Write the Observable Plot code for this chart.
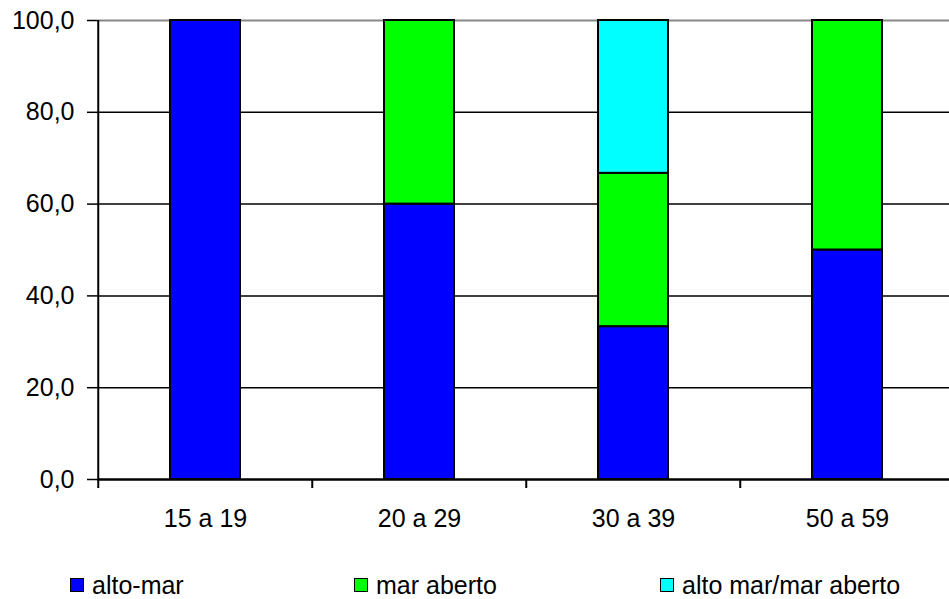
<!DOCTYPE html>
<html>
<head>
<meta charset="utf-8">
<script src="https://cdn.jsdelivr.net/npm/d3@7"></script>
<script src="https://cdn.jsdelivr.net/npm/@observablehq/plot@0.6"></script>
<style>
  html, body { margin: 0; padding: 0; background: #fff; }
  body { width: 949px; height: 599px; overflow: hidden; font-family: "Liberation Sans", Arial, sans-serif; }
  #chart svg { display: block; }
  #chart svg text { font-size: 25px; fill: #000; }
  #legend { position: relative; height: 49px; font-size: 25px; color: #000; }
  .item { position: absolute; top: 20px; height: 30px; line-height: 30px; display: flex; align-items: center; white-space: nowrap; }
  .sw { width: 12px; height: 12px; border: 1.5px solid #000; margin-right: 8px; }
</style>
</head>
<body>
<div id="chart"></div>
<div id="legend"></div>
<script>
const categories = ["15 a 19", "20 a 29", "30 a 39", "50 a 59"];
const seriesNames = ["alto-mar", "mar aberto", "alto mar/mar aberto"];
const altoMar = [100, 60, 33.3, 50];
const marAberto = [0, 40, 33.4, 50];
const altoMarMarAberto = [0, 0, 33.3, 0];
const seriesColors = ["#0000FF", "#00FF00", "#00FFFF"];
const yTicks = [0, 20, 40, 60, 80, 100];

const seriesValues = [altoMar, marAberto, altoMarMarAberto];
const data = [];
categories.forEach((c, i) => {
  seriesNames.forEach((s, j) => {
    const v = seriesValues[j][i];
    if (v > 0) data.push({category: c, series: s, value: v});
  });
});

const fmt = d => d.toFixed(1).replace(".", ",");
const leftX = 97, rightX = 955;
const bandStep = (rightX - leftX) / categories.length;

const chart = Plot.plot({
  width: 949,
  height: 550,
  marginTop: 20,
  marginBottom: 71,
  marginLeft: 97,
  marginRight: 0,
  style: {fontFamily: "Liberation Sans, Arial, sans-serif", fontSize: "25px", color: "#000", background: "#fff"},
  x: {domain: categories, range: [leftX, rightX], paddingInner: 0.674, paddingOuter: 0.337, label: null},
  y: {domain: [0, 100], label: null},
  color: {domain: seriesNames, range: seriesColors},
  marks: [
    Plot.ruleY(yTicks.filter(d => d > 0 && d < 100), {stroke: "#000", strokeWidth: 1.5}),
    Plot.ruleY([100], {stroke: "#888", strokeWidth: 2}),
    Plot.barY(data, {x: "category", y: "value", fill: "series", stroke: "#000", strokeWidth: 2, order: seriesNames}),
    Plot.axisY({ticks: yTicks, tickFormat: fmt, tickSize: 10, tickPadding: 13, fontSize: 25, stroke: "#000", strokeWidth: 1.5}),
    Plot.axisX({tickSize: 0, tickPadding: 30, fontSize: 25}),
    Plot.ruleX(categories, {x: d => d, dx: -bandStep / 2, y1: 0, y2: 0, stroke: "#000", strokeWidth: 2, insetBottom: -9}),
    Plot.ruleX([categories[0]], {dx: -bandStep / 2, stroke: "#000", strokeWidth: 2}),
    Plot.ruleY([0], {stroke: "#000", strokeWidth: 2.5})
  ]
});
document.getElementById("chart").appendChild(chart);

const legendLeft = [70, 354, 660];
const legend = document.getElementById("legend");
seriesNames.forEach((s, i) => {
  const item = document.createElement("div");
  item.className = "item";
  item.style.left = legendLeft[i] + "px";
  const sw = document.createElement("div");
  sw.className = "sw";
  sw.style.background = seriesColors[i];
  item.appendChild(sw);
  const t = document.createElement("span");
  t.textContent = s;
  item.appendChild(t);
  legend.appendChild(item);
});
</script>
</body>
</html>
